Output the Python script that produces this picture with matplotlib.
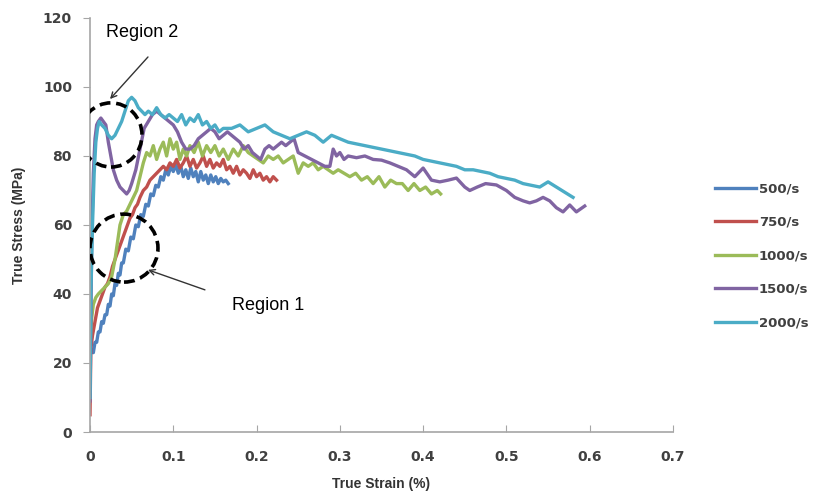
# True stress vs true strain at several strain rates
import matplotlib
matplotlib.use('Agg')
import matplotlib.pyplot as plt
from matplotlib.patches import Ellipse

# Data
strain_500 = [0, 0.002, 0.004, 0.006, 0.008, 0.010, 0.012, 0.014, 0.016, 0.018, 0.020, 0.022,
              0.024, 0.026, 0.028, 0.030, 0.032, 0.034, 0.036, 0.038, 0.040, 0.043, 0.046, 0.049,
              0.052, 0.055, 0.058, 0.061, 0.064, 0.067, 0.070, 0.073, 0.076, 0.079, 0.082, 0.085,
              0.088, 0.091, 0.094, 0.097, 0.100, 0.103, 0.106, 0.109, 0.112, 0.115, 0.118, 0.121,
              0.124, 0.127, 0.130, 0.133, 0.136, 0.139, 0.142, 0.145, 0.148, 0.151, 0.154, 0.157,
              0.160, 0.163, 0.166]
stress_500 = [22, 24, 23, 26, 26, 29, 29, 32, 31.5, 34, 34, 37, 36.5, 40, 39.5, 43, 42.5, 46, 45.5,
              49, 49, 53, 52.5, 56.5, 56, 60, 59.5, 63, 62.5, 66, 65.5, 69, 68.5, 71.5, 71, 74,
              73, 76, 74.5, 77, 75.5, 77.5, 75, 77, 74, 76, 73.5, 76.5, 74, 75.5, 72.5, 75.5, 73,
              74.5, 72, 74.5, 72.5, 74, 72, 73.5, 72.5, 73, 72]

strain_750 = [0, 0.001, 0.003, 0.006, 0.009, 0.012, 0.015, 0.018, 0.021, 0.024, 0.027, 0.030,
              0.033, 0.036, 0.039, 0.042, 0.045, 0.048, 0.051, 0.054, 0.057, 0.060, 0.064, 0.068,
              0.072, 0.076, 0.080, 0.084, 0.088, 0.092, 0.096, 0.100, 0.104, 0.108, 0.112, 0.116,
              0.120, 0.124, 0.128, 0.132, 0.136, 0.140, 0.144, 0.148, 0.152, 0.156, 0.160, 0.164,
              0.168, 0.172, 0.176, 0.180, 0.184, 0.188, 0.192, 0.196, 0.200, 0.204, 0.208, 0.212,
              0.216, 0.220, 0.224]
stress_750 = [5, 24, 28, 32, 36, 38, 40, 42, 43, 45, 48, 50, 52, 54, 56, 58, 60, 62, 63, 65, 66,
              68, 70, 71, 73, 74, 75, 76, 77, 76, 78, 77, 79, 76.5, 78, 80, 77, 79, 76.5, 78, 80,
              77, 79, 76.5, 78, 77, 79, 76, 77, 75, 77, 74.5, 76, 75, 73.5, 76, 74, 75, 73, 74,
              72.5, 74, 73]

strain_1000 = [0, 0.002, 0.004, 0.007, 0.010, 0.014, 0.018, 0.022, 0.026, 0.030, 0.033, 0.036,
               0.040, 0.044, 0.048, 0.052, 0.056, 0.060, 0.064, 0.068, 0.072, 0.076, 0.080, 0.084,
               0.088, 0.092, 0.096, 0.100, 0.104, 0.108, 0.112, 0.116, 0.120, 0.125, 0.130, 0.135,
               0.140, 0.145, 0.150, 0.155, 0.160, 0.166, 0.172, 0.178, 0.184, 0.190, 0.196, 0.202,
               0.208, 0.214, 0.220, 0.226, 0.232, 0.238, 0.244, 0.250, 0.256, 0.262, 0.268, 0.274,
               0.280, 0.286, 0.292, 0.298, 0.305, 0.312, 0.319, 0.326, 0.333, 0.340, 0.347, 0.354,
               0.361, 0.368, 0.375, 0.382, 0.389, 0.396, 0.403, 0.410, 0.417, 0.421]
stress_1000 = [25, 33, 37, 39, 40, 41, 42, 43, 45, 50, 55, 60, 63, 64, 66, 68, 70, 74, 78, 81, 80,
               83, 79, 82, 84, 80, 85, 82, 84, 79, 82, 80, 83, 81, 84, 80, 83, 81, 83, 80, 82, 79,
               82, 80, 83, 81, 80, 79, 78, 80, 79, 80, 78, 79, 80, 75, 78, 77, 78, 76, 77, 76, 75,
               76, 75, 74, 75, 73, 74, 72, 74, 71, 73, 72, 72, 70, 72, 70, 71, 69, 70, 69]

strain_1500 = [0, 0.001, 0.002, 0.004, 0.006, 0.008, 0.010, 0.013, 0.016, 0.019, 0.022, 0.025,
               0.028, 0.032, 0.036, 0.040, 0.044, 0.047, 0.050, 0.055, 0.060, 0.065, 0.070, 0.075,
               0.080, 0.085, 0.090, 0.095, 0.100, 0.105, 0.110, 0.115, 0.120, 0.125, 0.130, 0.135,
               0.140, 0.145, 0.150, 0.155, 0.160, 0.165, 0.170, 0.175, 0.180, 0.185, 0.190, 0.195,
               0.200, 0.205, 0.210, 0.215, 0.220, 0.225, 0.230, 0.235, 0.240, 0.245, 0.250, 0.258,
               0.266, 0.274, 0.282, 0.288, 0.292, 0.296, 0.300, 0.305, 0.310, 0.320, 0.330, 0.340,
               0.350, 0.360, 0.370, 0.380, 0.390, 0.400, 0.410, 0.420, 0.430, 0.440, 0.450, 0.456,
               0.465, 0.475, 0.488, 0.500, 0.510, 0.520, 0.528, 0.536, 0.544, 0.552, 0.560, 0.568,
               0.576, 0.584, 0.594]
stress_1500 = [9, 30, 55, 75, 85, 89, 90, 91, 90, 89, 84, 80, 76, 73, 71, 70, 69, 70, 72, 76, 82,
               88, 90, 92, 93, 92, 91, 90, 89, 87, 84, 82, 82, 83, 85, 86, 87, 88, 87, 85, 86, 87,
               86, 85, 84, 82, 83, 81, 80, 79, 82, 83, 82, 83, 84, 83, 84, 85, 81, 80, 79, 78, 77,
               77, 82, 80, 81, 79, 80, 79.5, 80, 79, 78.8, 78, 77, 76, 74, 76.5, 73, 72.5, 73,
               73.6, 71, 70, 71, 72, 71.6, 70, 68, 67, 66.4, 67, 68, 67, 65, 63.8, 65.8, 63.8, 65.5]

strain_2000 = [0, 0.001, 0.003, 0.005, 0.007, 0.009, 0.011, 0.014, 0.018, 0.022, 0.026, 0.030,
               0.034, 0.038, 0.042, 0.046, 0.050, 0.054, 0.058, 0.062, 0.066, 0.070, 0.075, 0.080,
               0.085, 0.090, 0.095, 0.100, 0.105, 0.110, 0.115, 0.120, 0.125, 0.130, 0.135, 0.140,
               0.145, 0.150, 0.155, 0.160, 0.170, 0.180, 0.190, 0.200, 0.210, 0.220, 0.230, 0.240,
               0.250, 0.260, 0.270, 0.280, 0.290, 0.300, 0.310, 0.320, 0.330, 0.340, 0.350, 0.360,
               0.370, 0.380, 0.390, 0.400, 0.410, 0.420, 0.430, 0.440, 0.450, 0.460, 0.470, 0.480,
               0.490, 0.500, 0.510, 0.520, 0.530, 0.540, 0.550, 0.560, 0.570, 0.580]
stress_2000 = [10, 40, 60, 75, 84, 88, 90, 89, 88, 86, 85, 86, 88, 90, 93, 96, 97, 96, 94, 93, 92,
               93, 92, 94, 92, 91, 92, 91, 90, 92, 89, 91, 90, 92, 89, 90, 88, 89, 87, 88, 88, 89,
               87, 88, 89, 87, 86, 85, 86, 87, 86, 84, 86, 85, 84, 83.5, 83, 82.5, 82, 81.5, 81,
               80.5, 80, 79, 78.5, 78, 77.5, 77, 76, 76, 75.5, 75, 74, 73.5, 73, 72, 71.5, 71,
               72.5, 71, 69.5, 68]

series_labels = ['500/s', '750/s', '1000/s', '1500/s', '2000/s']
series_colors = ['#4F81BD', '#C0504D', '#9BBB59', '#8064A2', '#4BACC6']
x_ticks = [0, 0.1, 0.2, 0.3, 0.4, 0.5, 0.6, 0.7]
x_ticklabels = ['0', '0.1', '0.2', '0.3', '0.4', '0.5', '0.6', '0.7']
y_ticks = [0, 20, 40, 60, 80, 100, 120]

plt.rcParams['font.family'] = ['Liberation Sans', 'DejaVu Sans']

fig = plt.figure(figsize=(8.22, 4.94), dpi=100)
ax = fig.add_axes([0.1095, 0.1255, 0.7092, 0.8381])

all_data = [(strain_500, stress_500), (strain_750, stress_750), (strain_1000, stress_1000),
            (strain_1500, stress_1500), (strain_2000, stress_2000)]
for (xs, ys), lab, col in zip(all_data, series_labels, series_colors):
    ax.plot(xs, ys, color=col, lw=2.4, label=lab, solid_joinstyle='round')

ax.set_xlim(0, 0.7)
ax.set_ylim(0, 120)
ax.set_xticks(x_ticks)
ax.set_xticklabels(x_ticklabels)
ax.set_yticks(y_ticks)

for side in ['top', 'right']:
    ax.spines[side].set_visible(False)
for side in ['left', 'bottom']:
    ax.spines[side].set_color('#A6A6A6')
    ax.spines[side].set_linewidth(1.2)
ax.tick_params(axis='x', direction='in', length=5, color='#A6A6A6', pad=13)
ax.tick_params(axis='y', direction='out', length=5, color='#A6A6A6', pad=8)
for t in ax.get_xticklabels() + ax.get_yticklabels():
    t.set_fontfamily('DejaVu Sans')
    t.set_fontsize(10)
    t.set_fontweight('bold')
    t.set_color('#404040')

ax.set_xlabel('True Strain (%)', fontsize=10, fontweight='bold', color='#333333', labelpad=9)
ax.set_ylabel('True Stress (MPa)', fontsize=10, fontweight='bold', color='#333333', labelpad=12)

# Dashed circles marking the two regions
ax.add_patch(Ellipse((0.0252, 86.1), 0.0744, 18.6, fill=False, ec='black', lw=2.6,
                     ls=(0, (3, 1.6)), zorder=5))
ax.add_patch(Ellipse((0.0408, 53.3), 0.0816, 19.7, fill=False, ec='black', lw=2.6,
                     ls=(0, (3, 1.6)), zorder=5))

ax.text(0.0624, 115.7, 'Region 2', fontsize=13, ha='center', va='center', color='black')
ax.annotate('', xy=(0.024, 96.5), xytext=(0.0696, 108.7),
            arrowprops=dict(arrowstyle='->', color='#333333', lw=1.0, shrinkA=0, shrinkB=0))
ax.text(0.2137, 36.8, 'Region 1', fontsize=13, ha='center', va='center', color='black')
ax.annotate('', xy=(0.0696, 47), xytext=(0.138, 41.2),
            arrowprops=dict(arrowstyle='->', color='#333333', lw=1.0, shrinkA=0, shrinkB=0))

leg = fig.legend(loc='center left', bbox_to_anchor=(0.87, 0.482), frameon=False,
                 borderpad=0, borderaxespad=0, handlelength=3.1, handletextpad=0.2,
                 labelspacing=1.55, prop={'family': 'DejaVu Sans', 'size': 9.5, 'weight': 'bold'},
                 labelcolor='#404040')

fig.savefig('out.png', dpi=100)
